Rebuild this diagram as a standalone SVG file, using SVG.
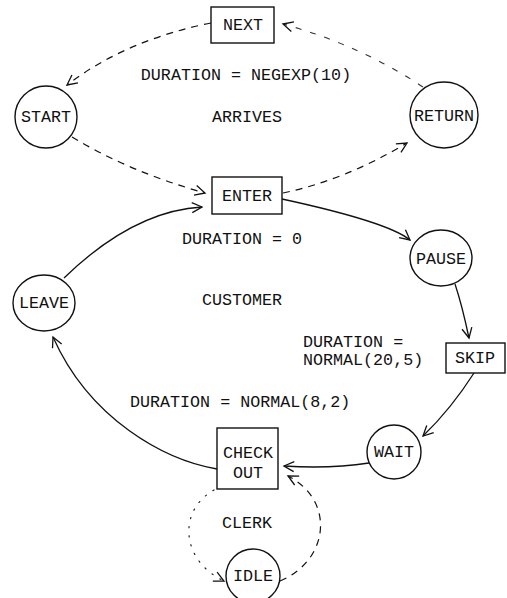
<svg xmlns="http://www.w3.org/2000/svg" width="507" height="598" viewBox="0 0 507 598">
  <style>
    text { font-family: "Liberation Mono", "Courier New", monospace; font-size: 16.7px; fill: #111; }
    .mid { text-anchor: middle; }
    .node { fill: #fff; stroke: #111; stroke-width: 1.4; }
    .solid { fill: none; stroke: #111; stroke-width: 1.3; }
    .dash { fill: none; stroke: #111; stroke-width: 1.2; stroke-dasharray: 7 6; }
    .dash-light { fill: none; stroke: #333; stroke-width: 1.1; stroke-dasharray: 6 9; }
    .dot { fill: none; stroke: #222; stroke-width: 1.2; stroke-dasharray: 1.2 8; stroke-linecap: round; }
  </style>
  <defs>
    <marker id="arrow" markerUnits="userSpaceOnUse" markerWidth="14" markerHeight="14" refX="11" refY="6" orient="auto">
      <path d="M1,1 L11,6 L1,11" fill="none" stroke="#111" stroke-width="1.3"/>
    </marker>
  </defs>

  <rect width="507" height="598" fill="#fff"/>

  <!-- connectors -->
  <g id="connectors">
    <path class="dash" d="M211,23 Q126,40 67,85" marker-end="url(#arrow)"/>
    <path class="dash-light" d="M423,87 Q360,45 283,24" marker-end="url(#arrow)"/>
    <path class="dash" d="M72,137 Q130,172 205,193" marker-end="url(#arrow)"/>
    <path class="dash" d="M283,193 Q345,180 407,143" marker-end="url(#arrow)"/>
    <path class="solid" d="M282,199 Q388,222 410,240" marker-end="url(#arrow)"/>
    <path class="solid" d="M455,284 Q462,305 469,338" marker-end="url(#arrow)"/>
    <path class="solid" d="M474,373 Q451,409 423,436" marker-end="url(#arrow)"/>
    <path class="solid" d="M369,463 Q330,469 284,466" marker-end="url(#arrow)"/>
    <path class="solid" d="M217,469 C165,460 90,420 53,337" marker-end="url(#arrow)"/>
    <path class="solid" d="M64,278 Q133,211 202,207" marker-end="url(#arrow)"/>
    <path class="dot" d="M214,490 C178,510 180,560 224,581" marker-end="url(#arrow)"/>
    <path class="dash" d="M280,581 C330,560 335,500 288,476" marker-end="url(#arrow)"/>
  </g>

  <!-- ARRIVES cycle -->
  <g id="next">
    <rect class="node" x="211" y="7" width="63" height="36"/>
    <text class="mid" x="243" y="30">NEXT</text>
  </g>
  <g id="start">
    <circle class="node" cx="46" cy="117" r="31"/>
    <text class="mid" x="46" y="122">START</text>
  </g>
  <g id="return">
    <ellipse class="node" cx="444" cy="115" rx="34" ry="33"/>
    <text class="mid" x="444" y="121">RETURN</text>
  </g>
  <g id="enter">
    <rect class="node" x="212" y="177" width="70" height="37"/>
    <text class="mid" x="247" y="201">ENTER</text>
  </g>

  <!-- CUSTOMER cycle -->
  <g id="pause">
    <ellipse class="node" cx="441" cy="258" rx="31" ry="28"/>
    <text class="mid" x="441" y="264">PAUSE</text>
  </g>
  <g id="skip">
    <rect class="node" x="446" y="343" width="59" height="30"/>
    <text class="mid" x="475" y="363">SKIP</text>
  </g>
  <g id="wait">
    <circle class="node" cx="394" cy="452" r="27"/>
    <text class="mid" x="394" y="457">WAIT</text>
  </g>
  <g id="checkout">
    <rect class="node" x="217" y="428" width="61" height="61"/>
    <text class="mid" x="248" y="458">CHECK</text>
    <text class="mid" x="248" y="478">OUT</text>
  </g>
  <g id="leave">
    <ellipse class="node" cx="44" cy="303" rx="31" ry="28"/>
    <text class="mid" x="44" y="308">LEAVE</text>
  </g>

  <!-- CLERK cycle -->
  <g id="idle">
    <circle class="node" cx="253" cy="576" r="27"/>
    <text class="mid" x="253" y="581">IDLE</text>
  </g>

  <!-- labels -->
  <g id="labels">
    <text class="mid" x="246" y="80">DURATION = NEGEXP(10)</text>
    <text class="mid" x="247" y="122">ARRIVES</text>
    <text class="mid" x="242" y="244">DURATION = 0</text>
    <text class="mid" x="242" y="305">CUSTOMER</text>
    <text x="303" y="347">DURATION =</text>
    <text x="303" y="365">NORMAL(20,5)</text>
    <text x="130" y="407">DURATION = NORMAL(8,2)</text>
    <text class="mid" x="247" y="528">CLERK</text>
  </g>
</svg>
